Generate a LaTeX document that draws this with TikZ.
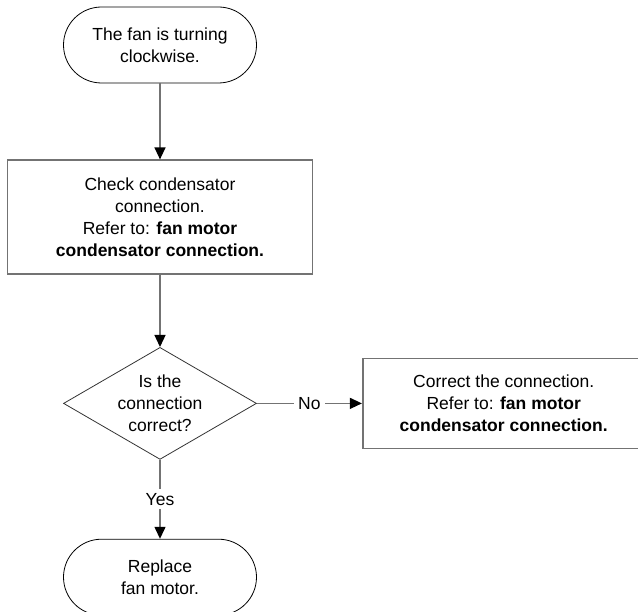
\documentclass[tikz,border=0pt]{standalone}
\usepackage{fontspec}
\setmainfont{Liberation Sans}
\usetikzlibrary{arrows.meta,positioning,shapes.geometric}
\colorlet{LineGray}{black!55}

\begin{document}
\begin{tikzpicture}[
  x=1pt,y=-1pt,
  every node/.style={font=\fontsize{17.5}{22}\selectfont,align=center},
  terminal/.style={draw=black,line width=0.8pt,rounded corners=38pt,
                   minimum width=193pt,minimum height=76pt,inner sep=0pt},
  stepbox/.style={draw=LineGray,line width=1.6pt,minimum width=305pt,
                  minimum height=114pt,inner sep=0pt},
  decision/.style={diamond,shape aspect=1.72,draw=black!80,line width=0.8pt,
                   minimum width=193pt,minimum height=112pt,inner sep=0pt},
  link/.style={draw=LineGray,line width=1.3pt,
               -{Triangle[length=12pt,width=11pt,color=black]}},
  answer/.style={fill=white,inner sep=4pt}
]
  \useasboundingbox (0,0) rectangle (638,612);

  \node[terminal] (start) at (160,45) {The fan is turning\\clockwise.};
  \node[stepbox,below=76pt of start] (check)
    {Check condensator\\connection.\\Refer to: \textbf{fan motor}\\
     \textbf{condensator connection.}};
  \node[decision,below=72pt of check] (decide) {Is the\\connection\\correct?};
  \node[stepbox,minimum width=282pt,minimum height=90pt,right=105pt of decide] (fix)
    {Correct the connection.\\Refer to: \textbf{fan motor}\\
     \textbf{condensator connection.}};
  \node[terminal,below=79pt of decide] (finish) {Replace\\fan motor.};

  \draw[link] (start) -- (check);
  \draw[link] (check) -- (decide);
  \draw[link] (decide) -- node[answer] {No} (fix);
  \draw[link] (decide) -- node[answer] {Yes} (finish);
\end{tikzpicture}
\end{document}
